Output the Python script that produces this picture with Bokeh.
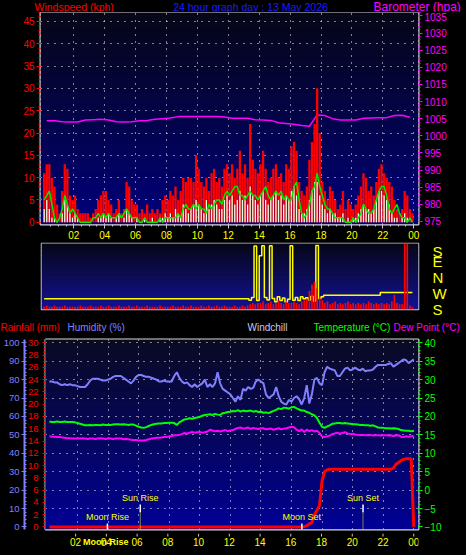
import numpy as np
from bokeh.plotting import figure
from bokeh.models import Range1d, LinearAxis, FixedTicker, BoxAnnotation, Label
from bokeh.layouts import column
from bokeh.embed import file_html
from bokeh.resources import INLINE
from bokeh.core.properties import value

FONT = "Liberation Sans"

# ---------------- data (10-minute slots, 144 per day) ----------------
wind_gust = [
    11, 13, 13, 10, 8, 4, 2, 7, 13, 12, 6, 5,
    6, 3, 2, 2, 2, 2, 1, 2, 3, 5, 6, 7,
    7, 5, 4, 2, 3, 5, 2, 3, 9, 8, 5, 4,
    4, 2, 3, 2, 4, 2, 3, 2, 3, 2, 5, 6,
    5, 7, 6, 8, 5, 7, 10, 9, 10, 10, 9, 15,
    12, 9, 8, 10, 7, 11, 12, 9, 10, 8, 12, 13,
    11, 13, 10, 12, 16, 11, 13, 10, 22, 14, 12, 11,
    13, 16, 12, 9, 10, 12, 13, 10, 11, 9, 13, 12,
    17, 18, 16, 9, 7, 6, 8, 14, 18, 22, 30, 20,
    9, 7, 5, 8, 7, 5, 3, 4, 7, 3, 5, 4,
    3, 4, 6, 8, 11, 10, 7, 8, 6, 9, 12, 13,
    11, 10, 9, 8, 5, 3, 2, 3, 7, 6, 3, 2,
]
wind_avg = [
    3, 5, 3, 1, 1, 0, 0, 2, 5, 4, 2, 1,
    2, 1, 0, 0, 0, 0, 0, 0, 0, 1, 1, 2,
    1, 2, 1, 0, 1, 2, 0, 1, 3, 2, 1, 0,
    1, 0, 0, 1, 0, 0, 1, 0, 0, 1, 1, 2,
    1, 2, 1, 3, 2, 1, 4, 3, 2, 3, 4, 5,
    4, 3, 2, 5, 3, 4, 5, 4, 3, 3, 5, 6,
    5, 6, 4, 5, 7, 5, 6, 4, 8, 6, 5, 4,
    6, 7, 5, 4, 5, 6, 7, 5, 6, 4, 6, 5,
    7, 8, 6, 3, 2, 2, 3, 5, 7, 9, 9, 6,
    4, 3, 2, 3, 2, 2, 1, 1, 2, 0, 1, 0,
    1, 1, 2, 3, 4, 3, 3, 2, 3, 5, 7, 7,
    6, 5, 4, 2, 1, 1, 0, 1, 2, 1, 0, 0,
]
wind_avg_line = [
    5, 6, 7, 4, 1, 0, 1, 3, 6, 4, 2, 3,
    2, 1, 0, 0, 0, 0, 0, 1, 1, 2, 1, 2,
    1, 2, 1, 1, 1, 2, 1, 2, 3, 2, 1, 1,
    1, 0, 0, 1, 0, 0, 0, 0, 0, 1, 0, 1,
    1, 1, 1, 1, 2, 1, 3, 4, 3, 3, 4, 3,
    4, 3, 3, 2, 4, 3, 4, 5, 5, 4, 6, 7,
    6, 7, 8, 8, 6, 6, 5, 6, 7, 6, 6, 5,
    6, 7, 8, 6, 5, 6, 7, 6, 7, 5, 6, 5,
    5, 8, 9, 5, 2, 1, 2, 4, 7, 8, 11, 8,
    6, 4, 3, 3, 2, 1, 1, 1, 1, 0, 0, 0,
    1, 0, 1, 2, 4, 3, 2, 2, 3, 5, 7, 8,
    8, 6, 3, 2, 3, 4, 2, 1, 1, 0, 1, 0,
]
# barometer, 30-minute readings
barometer = [
    1004.4, 1004.4, 1004.1, 1004.0, 1004.0, 1004.6, 1004.7, 1004.8,
    1004.6, 1004.1, 1004.0, 1004.1, 1004.4, 1004.5, 1004.8, 1005.0,
    1005.2, 1005.6, 1005.6, 1005.6, 1005.6, 1005.6, 1005.6, 1005.5,
    1005.1, 1005.1, 1005.1, 1004.7, 1004.6, 1004.5, 1003.8, 1003.6,
    1003.4, 1003.0, 1002.8, 1006.1, 1005.9, 1005.0, 1004.6, 1004.6,
    1004.6, 1005.1, 1005.2, 1005.3, 1005.3, 1005.9, 1006.0, 1005.4,
]
# wind direction, compass degrees
wind_dir = [
    238, 238, 238, 238, 238, 238, 238, 238, 238, 238, 238, 238,
    238, 238, 238, 238, 238, 238, 238, 238, 238, 238, 238, 238,
    238, 238, 238, 238, 238, 238, 238, 238, 238, 238, 238, 238,
    238, 238, 238, 238, 238, 238, 238, 238, 238, 238, 238, 238,
    238, 238, 238, 238, 238, 238, 238, 238, 238, 238, 238, 238,
    238, 238, 238, 238, 238, 238, 238, 238, 238, 238, 238, 238,
    238, 238, 238, 238, 238, 238, 238, 238, 230, 245, 175, 228,
    120, 176, 245, 232, 176, 240, 222, 250, 228, 242, 220, 236,
    176, 230, 246, 228, 250, 238, 244, 232, 252, 226, 178, 240,
    250, 258, 258, 258, 258, 258, 258, 258, 258, 258, 258, 258,
    258, 258, 258, 258, 258, 258, 258, 258, 258, 258, 258, 273,
    273, 273, 273, 273, 273, 273, 273, 273, 273, 273, 273, 273,
]
rain_rate = [
    2, 3, 2, 2, 3, 2, 2, 2, 3, 2, 2, 2,
    2, 2, 3, 2, 2, 2, 3, 2, 2, 2, 3, 2,
    2, 3, 2, 2, 2, 3, 2, 2, 2, 3, 2, 2,
    3, 2, 2, 2, 3, 2, 2, 2, 2, 3, 2, 2,
    2, 2, 3, 2, 2, 2, 3, 2, 2, 3, 2, 2,
    2, 3, 2, 2, 3, 2, 2, 3, 2, 2, 3, 2,
    2, 2, 3, 2, 2, 3, 2, 3, 4, 5, 4, 5,
    5, 6, 4, 5, 6, 4, 5, 7, 5, 4, 6, 5,
    5, 6, 5, 4, 6, 7, 8, 14, 19, 21, 16, 9,
    7, 5, 6, 4, 5, 6, 4, 5, 4, 5, 6, 4,
    5, 4, 5, 4, 5, 4, 6, 5, 4, 5, 4, 5,
    4, 5, 4, 6, 11, 5, 4, 4, 50, 50, 3, 2,
]
humidity = [
    79, 79, 78.5, 78.5, 77.5, 77, 77.5, 77, 77.5, 77, 77, 76.5,
    76, 76, 76, 77.5, 79.5, 80.5, 80.5, 80.5, 80, 79.5, 79.5, 80,
    80.5, 81.5, 82, 82, 82, 81, 80, 79, 78, 79.5, 81.5, 82.5,
    82.5, 82, 81.5, 81.5, 81, 80.5, 80, 79, 79, 79.5, 79, 79,
    79, 82, 84, 81, 79, 78, 78.5, 77, 76, 77.5, 76, 77,
    78, 80, 76, 77.5, 76, 78, 84, 78, 75, 74, 73, 72,
    70, 68, 71, 69, 75, 74, 76, 75, 75.5, 79, 80, 79,
    78, 72, 70, 71, 72, 76, 71, 68, 67, 66.5, 69, 68,
    70, 71, 69.5, 66.5, 70, 77, 67, 72, 80, 81, 78, 77,
    84, 87, 86, 85.5, 85, 82, 82, 84, 86, 86.5, 85, 85.5,
    86.5, 85.5, 85, 86, 84.5, 85, 85, 85.5, 87, 88, 88, 88,
    88, 88.5, 89, 87, 88, 89, 90, 91, 90.5, 89, 90, 91,
]
temperature = [
    18.6, 18.5, 18.5, 18.6, 18.5, 18.5, 18.6, 18.5, 18.5, 18.5, 18.4, 18.2,
    18.0, 17.8, 17.6, 17.6, 17.7, 17.6, 17.7, 17.7, 17.6, 17.8, 17.7, 17.7,
    17.7, 17.8, 17.9, 17.9, 17.8, 17.9, 17.8, 17.7, 17.8, 17.8, 17.5, 17.2,
    17.0, 16.9, 17.1, 17.4, 17.7, 17.9, 18.0, 18.1, 18.1, 18.2, 18.2, 18.3,
    18.3, 18.2, 17.7, 18.4, 18.8, 19.2, 19.3, 19.5, 19.4, 19.6, 19.7, 19.9,
    20.2, 20.4, 20.5, 20.6, 20.4, 20.7, 20.5, 20.4, 20.9, 21.0, 21.2, 21.3,
    21.5, 21.4, 21.7, 21.3, 21.6, 21.4, 21.5, 21.6, 21.3, 21.5, 21.2, 21.3,
    21.0, 21.1, 20.9, 21.2, 21.5, 21.8, 22.2, 22.0, 22.4, 22.3, 22.1, 22.5,
    22.6, 22.2, 21.9, 21.6, 21.6, 21.2, 21.0, 20.6, 20.3, 19.6, 18.3, 17.2,
    16.9, 17.3, 17.6, 18.0, 18.1, 18.2, 18.2, 18.1, 18.2, 18.1, 18.0, 17.9,
    17.9, 17.8, 17.7, 17.7, 17.6, 17.6, 17.5, 17.6, 17.3, 17.0, 16.9, 16.9,
    16.8, 16.8, 16.7, 16.8, 16.7, 16.6, 16.3, 16.2, 16.1, 16.1, 16.0, 16.1,
]
dew_point = [
    14.6, 14.5, 14.5, 14.4, 14.4, 14.3, 14.2, 14.1, 14.1, 14.0, 14.0, 14.0,
    14.0, 14.1, 14.0, 13.9, 14.0, 14.0, 13.9, 14.0, 14.1, 14.0, 13.9, 14.0,
    14.0, 13.9, 14.0, 14.0, 14.0, 13.8, 13.9, 13.8, 13.7, 13.6, 13.6, 13.5,
    13.5, 13.5, 13.6, 13.8, 14.0, 14.1, 14.2, 14.2, 14.3, 14.4, 14.4, 14.6,
    14.7, 14.9, 14.9, 15.0, 15.2, 15.5, 15.3, 15.6, 15.8, 15.6, 15.7, 15.8,
    15.6, 15.7, 15.9, 16.4, 16.2, 16.0, 16.1, 15.9, 16.1, 16.3, 16.0, 16.2,
    16.3, 16.6, 16.9, 17.0, 16.7, 16.8, 17.0, 16.6, 16.9, 16.7, 16.6, 16.8,
    16.8, 16.5, 16.6, 16.7, 16.4, 16.6, 16.8, 16.5, 16.7, 16.8, 17.0, 17.2,
    17.1, 16.4, 16.0, 16.5, 15.8, 16.4, 16.0, 16.3, 15.9, 16.1, 15.5, 14.6,
    14.4, 14.6, 14.8, 15.2, 15.4, 15.6, 15.3, 15.5, 15.7, 15.4, 15.2, 15.3,
    15.1, 15.0, 14.9, 15.0, 14.9, 14.9, 15.0, 14.8, 14.9, 14.9, 14.8, 14.9,
    14.9, 14.8, 14.9, 14.7, 14.8, 14.9, 14.5, 14.4, 14.6, 14.5, 14.6, 14.7,
]
rainfall = [
    0, 0, 0, 0, 0, 0, 0, 0, 0, 0, 0, 0,
    0, 0, 0, 0, 0, 0, 0, 0, 0, 0, 0, 0,
    0, 0, 0, 0, 0, 0, 0, 0, 0, 0, 0, 0,
    0, 0, 0, 0, 0, 0, 0, 0, 0, 0, 0, 0,
    0, 0, 0, 0, 0, 0, 0, 0, 0, 0, 0, 0,
    0, 0, 0, 0, 0, 0, 0, 0, 0, 0, 0, 0,
    0, 0, 0, 0, 0, 0, 0, 0, 0, 0, 0, 0,
    0, 0, 0, 0, 0, 0, 0, 0, 0, 0, 0, 0,
    0, 0, 0, 0, 0.05, 0.2, 0.5, 0.7, 2.0, 2.7, 3.5, 7.5,
    9.0, 9.3, 9.4, 9.4, 9.4, 9.4, 9.4, 9.4, 9.4, 9.4, 9.4, 9.4,
    9.4, 9.4, 9.4, 9.4, 9.4, 9.4, 9.4, 9.4, 9.4, 9.4, 9.4, 9.4,
    9.4, 9.4, 9.4, 9.6, 10.2, 10.5, 10.8, 11.0, 11.1, 11.1, 11.1, 0,
]
event_names = ["Moon Rise", "Sun Rise", "Moon Set", "Sun Set"]
event_hours = [3.96, 6.11, 16.68, 20.68]

hour_ticks = [2, 4, 6, 8, 10, 12, 14, 16, 18, 20, 22, 24]
hour_text = ["02", "04", "06", "08", "10", "12", "14", "16", "18", "20", "22", "00"]
hour_labels = dict(zip(hour_ticks, hour_text))

n = len(wind_gust)
bar_hours = np.arange(n) / 6 + 1 / 12
line_hours = (np.arange(n) + 1) / 6
baro_hours = np.arange(len(barometer)) / 2 + 0.25
dir_plot = [d if d >= 180 else d + 360 for d in wind_dir]

W = 466


def gradient(p, y0, y1, c_top, c_bot, nb=40):
    step = (y1 - y0) / nb
    for k in range(nb):
        f = (k + 0.5) / nb
        rgb = [int(round(c_bot[j] + (c_top[j] - c_bot[j]) * f)) for j in range(3)]
        col = "#%02x%02x%02x" % tuple(rgb)
        p.add_layout(BoxAnnotation(bottom=y0 + k * step, top=y0 + (k + 1.4) * step,
                                   fill_color=col, fill_alpha=1.0, line_alpha=0,
                                   level="image"))


def style_axis(ax, color, size="10px", tick="#c8c8c8"):
    ax.axis_line_color = None
    ax.major_tick_line_color = tick
    ax.minor_tick_line_color = tick
    ax.major_label_text_color = color
    ax.major_label_text_font = FONT
    ax.major_label_text_font_size = size
    ax.major_tick_out = 4
    ax.major_tick_in = 0
    ax.minor_tick_out = 2
    ax.minor_tick_in = 0
    ax.major_label_standoff = 2


def base_fig(h, xr, yr, bl, bt, bb, **kw):
    return figure(width=W, height=h, x_range=xr, y_range=yr, output_backend="svg",
                  toolbar_location=None, min_border_left=bl, min_border_right=48,
                  min_border_top=bt, min_border_bottom=bb, frame_align=False,
                  background_fill_color="black", border_fill_color="black",
                  outline_line_color="#d8d8d8", outline_line_width=2, **kw)


def strip_fig(h, xr, yr, bl=0, br=0):
    p = figure(width=W, height=h, x_range=xr, y_range=yr, output_backend="svg",
               toolbar_location=None, x_axis_location=None, y_axis_location=None,
               min_border_left=bl, min_border_right=br, min_border_top=0, min_border_bottom=0,
               frame_align=False,
               background_fill_color="black", border_fill_color="black",
               outline_line_color=None)
    p.grid.visible = False
    return p


def text_label(p, x, y, txt, col, size="10px", align="left", style="normal"):
    p.add_layout(Label(x=x, y=y, text=txt, text_color=col, text_font=FONT, text_font_size=size,
                       text_align=align, text_baseline="middle", text_font_style=style))


# ---------------- header strip ----------------
head1 = strip_fig(12, Range1d(0, W), Range1d(0, 12))
text_label(head1, 34, 6, "Windspeed (kph)", "#ff0000", "10.5px")
text_label(head1, 250, 6, "24 hour graph day : 13 May 2026", "#1c1cff", "10.5px", "center")
text_label(head1, 373, 6, "Barometer (hpa)", "#ff00ff", "12px")

# ---------------- top: wind speed + barometer ----------------
top = base_fig(230, Range1d(-0.155, 24.31), Range1d(-0.5, 47.0), 40, 0, 18)
top.extra_y_ranges = {"baro": Range1d(974.1, 1036.0)}
gradient(top, -0.5, 47.0, (6, 6, 22), (0, 0, 124))

top.yaxis.ticker = FixedTicker(ticks=list(range(0, 46, 5)), minor_ticks=list(range(0, 48)))
style_axis(top.yaxis[0], "#ff0000", tick="#ff0000")
baro_axis = LinearAxis(y_range_name="baro",
                       ticker=FixedTicker(ticks=list(range(975, 1036, 5)),
                                          minor_ticks=list(range(975, 1037))))
style_axis(baro_axis, "#ff00ff", tick="#ff00ff")
top.add_layout(baro_axis, "right")
top.xaxis.ticker = FixedTicker(ticks=hour_ticks, minor_ticks=[k / 2 for k in range(1, 49)])
top.xaxis.major_label_overrides = hour_labels
style_axis(top.xaxis[0], "#ffff00")
top.xgrid.ticker = FixedTicker(ticks=hour_ticks)
top.ygrid.ticker = FixedTicker(ticks=list(range(5, 46, 5)))
top.grid.grid_line_color = "white"
top.grid.grid_line_dash = "1 6"

top.line(baro_hours, barometer, y_range_name="baro", line_color="#ff00ff", line_width=1.5)
top.vbar(x=bar_hours, top=wind_gust, width=0.9 / 6, bottom=0, fill_color="#ff0000", line_color=None)
top.vbar(x=bar_hours, top=wind_avg, width=0.5 / 6, bottom=0, fill_color="#e4ffe8", line_color=None)
top.line(bar_hours, wind_avg_line, line_color="#00e800", line_width=1.5)

# ---------------- middle: wind direction ----------------
mid = base_fig(76, Range1d(-0.09, 24.31), Range1d(178, 549), 41, 1, 9,
               x_axis_location=None, y_axis_location="right")
mid.outline_line_color = "#c8c8c8"
mid.outline_line_width = 1.5
mid.grid.visible = False
mid.extra_y_ranges = {"rate": Range1d(0, 50)}
gradient(mid, 178, 549, (6, 6, 24), (18, 18, 150))
mid.yaxis.ticker = FixedTicker(ticks=[180, 270, 360, 450, 540], minor_ticks=[])
mid.yaxis.major_label_overrides = {180: "S", 270: "W", 360: "N", 450: "E", 540: "S"}
style_axis(mid.yaxis[0], "#ffff00", size="15px")
mid.yaxis.major_tick_out = 0
mid.yaxis.major_label_standoff = 14
mid.step(bar_hours, dir_plot, mode="center", line_color="#ffff00", line_width=1.5)
mid.vbar(x=bar_hours, top=rain_rate, width=0.11, bottom=0, y_range_name="rate",
         fill_color="#ff0000", line_color=None)

# ---------------- second header strip ----------------
head2 = strip_fig(20, Range1d(0, W), Range1d(0, 20))
for txt, xs, col in [("Rainfall (mm)", 0, "#ff0000"), ("Humidity (%)", 67, "#8080ff"),
                     ("Windchill", 247, "#c8c8f0"), ("Temperature (°C)", 313, "#00ff00"),
                     ("Dew Point (°C)", 393, "#ff00ff")]:
    text_label(head2, xs, 11, txt, col, "10px")

# ---------------- bottom: rain, humidity, temperature ----------------
bot = base_fig(195, Range1d(-0.09, 24.31), Range1d(-0.42, 30.54), 43, 1, 4,
               x_axis_location=None)
bot.extra_y_ranges = {"hum": Range1d(-1.4, 101.8), "temp": Range1d(-10.7, 40.9)}
gradient(bot, -0.42, 30.54, (10, 10, 34), (0, 0, 150))

bot.yaxis.ticker = FixedTicker(ticks=list(range(0, 31, 2)), minor_ticks=[k / 2 for k in range(0, 62)])
style_axis(bot.yaxis[0], "#ff0000", size="9.5px", tick="#ff0000")
bot.yaxis.axis_line_color = "#ff0000"
bot.yaxis.major_tick_out = 3
bot.yaxis.major_label_standoff = 4
hum_axis = LinearAxis(y_range_name="hum",
                      ticker=FixedTicker(ticks=list(range(0, 101, 10)), minor_ticks=list(range(0, 101, 2))))
style_axis(hum_axis, "#8080ff", size="9.5px", tick="#8080ff")
hum_axis.axis_line_color = "#8080ff"
hum_axis.axis_line_width = 2
hum_axis.major_tick_out = 3
hum_axis.minor_tick_out = 0
hum_axis.minor_tick_in = 2
bot.add_layout(hum_axis, "left")
temp_axis = LinearAxis(y_range_name="temp",
                       ticker=FixedTicker(ticks=list(range(-10, 41, 5)), minor_ticks=list(range(-10, 41))))
style_axis(temp_axis, "#00ff00", tick="#00ff00")
bot.add_layout(temp_axis, "right")
bot.xgrid.ticker = FixedTicker(ticks=hour_ticks)
bot.ygrid.ticker = FixedTicker(ticks=[3, 6, 9, 12, 15, 18, 21, 24, 27, 30])
bot.grid.grid_line_color = "white"
bot.grid.grid_line_dash = "1 6"

bot.line(line_hours, humidity, y_range_name="hum", line_color="#8080ff", line_width=2)
bot.line(line_hours, temperature, y_range_name="temp", line_color="#00ff00", line_width=2)
bot.line(line_hours, dew_point, y_range_name="temp", line_color="#ff00ff", line_width=2)
bot.line(line_hours, rainfall, line_color="#ff0000", line_width=3)

for name, h in zip(event_names, event_hours):
    if name.startswith("Moon"):
        bot.segment(x0=h, x1=h, y0=-0.42, y1=0.56, line_color="white", line_width=1.5)
        ty_ev = 1.58
    else:
        bot.segment(x0=h, x1=h, y0=2.4, y1=3.65, line_color="white", line_width=1.5)
        bot.segment(x0=h, x1=h, y0=-0.42, y1=2.4, line_color="#ffff00", line_width=1,
                    line_dash="1 1")
        ty_ev = 4.68
    text_label(bot, h, ty_ev, name, "#ffff00", "9px", "center")

# ---------------- footer strip: hour labels under the bottom panel ----------------
foot = strip_fig(17, Range1d(-0.09, 24.31), Range1d(0, 17), bl=43, br=48)
foot.segment(x0=hour_ticks, x1=hour_ticks, y0=17, y1=14, line_color="#c8c8c8", line_width=1)
foot.text(x=hour_ticks, y=8.5, text=hour_text, text_color="#ffff00", text_font=value(FONT),
          text_font_size="10px", text_align="center", text_baseline="middle")
text_label(foot, event_hours[0], 8.5, event_names[0], "#ffff00", "9px", "center", "bold")

kw = {}
try:
    from bokeh.models import GlobalInlineStyleSheet
    kw["stylesheets"] = [GlobalInlineStyleSheet(css="html, body { background: #000000; }")]
except Exception:
    pass
layout = column(head1, top, mid, head2, bot, foot, spacing=0,
                styles={"background-color": "black"}, **kw)

open("out.html", "w").write(file_html(layout, INLINE))
